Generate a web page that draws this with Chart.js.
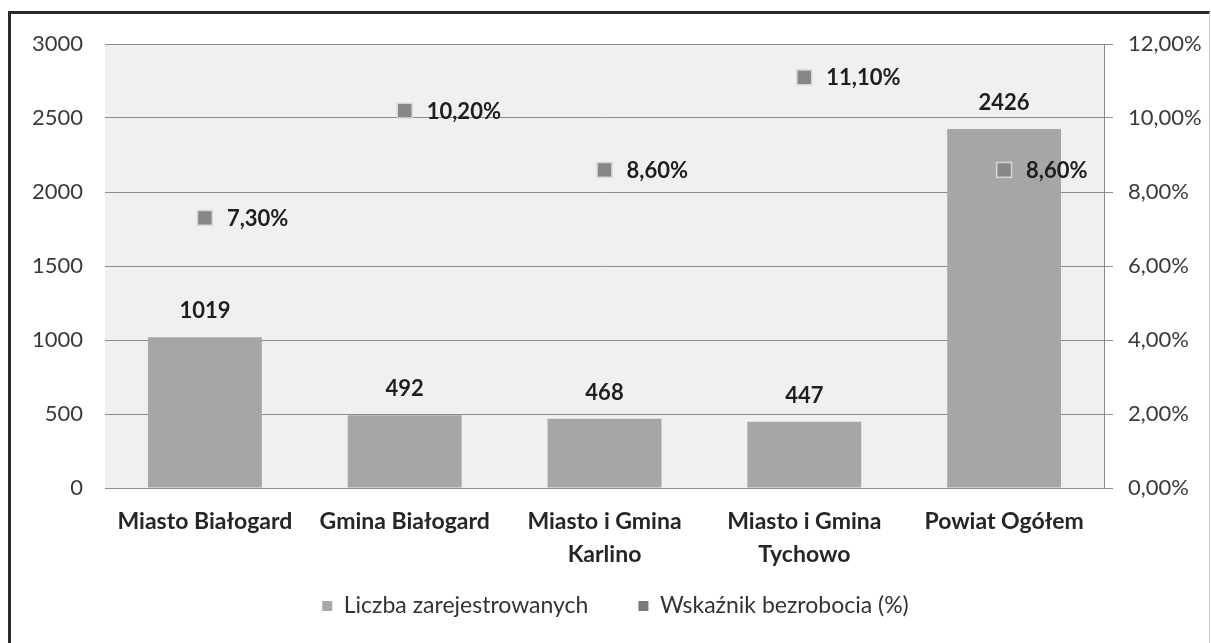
<!DOCTYPE html>
<html>
<head>
<meta charset="utf-8">
<script src="https://cdn.jsdelivr.net/npm/chart.js@4/dist/chart.umd.min.js"></script>
<style>
  html, body { margin: 0; padding: 0; background: #ffffff; overflow: hidden; }
  #wrap { position: relative; width: 1211px; height: 643px; }
  #frame { position: absolute; left: 8px; top: 11px; width: 1198px; height: 640px;
           border-left: 3px solid #2a2a2a; border-top: 3px solid #2a2a2a; border-right: 1px solid #cfcfcf; }
  canvas { position: absolute; left: 0; top: 0; }
</style>
</head>
<body>
<div id="wrap">
  <div id="frame"></div>
  <canvas id="c" width="1211" height="643"></canvas>
</div>
<script>
const categories = [
  "Miasto Białogard",
  "Gmina Białogard",
  ["Miasto i Gmina", "Karlino"],
  ["Miasto i Gmina", "Tychowo"],
  "Powiat Ogółem"
];
const registered = [1019, 492, 468, 447, 2426];
const unemploymentRate = [7.3, 10.2, 8.6, 11.1, 8.6];
const leftTicks = [0, 500, 1000, 1500, 2000, 2500, 3000];
const rightTicks = [0, 2, 4, 6, 8, 10, 12];
const seriesNames = ["Liczba zarejestrowanych", "Wskaźnik bezrobocia (%)"];

const FONT = "Lato, 'Open Sans', sans-serif";
const fmtPct = v => v.toFixed(2).replace('.', ',') + '%';

const plotBg = {
  id: 'plotBg',
  beforeDraw(chart) {
    const {ctx, chartArea: a} = chart;
    ctx.save();
    ctx.fillStyle = '#f0f0f0';
    ctx.fillRect(a.left, a.top, a.right - a.left, a.bottom - a.top);
    ctx.restore();
  }
};

const legendShift = {
  id: 'legendShift',
  afterLayout(chart) {
    const lg = chart.legend;
    if (lg) {
      lg.top -= 27.5; lg.bottom -= 27.5;
      lg.left += 10; lg.right += 10;
    }
  }
};

const valueLabels = {
  id: 'valueLabels',
  afterDatasetsDraw(chart) {
    const ctx = chart.ctx;
    ctx.save();
    ctx.fillStyle = '#1e1e1e';
    ctx.font = "bold 22px " + FONT;
    ctx.textBaseline = 'middle';
    const barMeta = chart.getDatasetMeta(0);
    ctx.textAlign = 'center';
    barMeta.data.forEach((el, i) => {
      ctx.fillText(String(registered[i]), el.x, el.y - 26);
    });
    const ptMeta = chart.getDatasetMeta(1);
    ctx.textAlign = 'left';
    ptMeta.data.forEach((el, i) => {
      ctx.fillText(fmtPct(unemploymentRate[i]), el.x + 22, el.y + 1);
    });
    ctx.restore();
  }
};

new Chart(document.getElementById('c'), {
  data: {
    labels: categories,
    datasets: [
      {
        type: 'bar',
        label: seriesNames[0],
        data: registered,
        backgroundColor: '#a6a6a6',
        borderColor: '#a6a6a6',
        borderWidth: 0,
        yAxisID: 'y',
        categoryPercentage: 1,
        barPercentage: 0.57,
        order: 2
      },
      {
        type: 'line',
        label: seriesNames[1],
        data: unemploymentRate,
        showLine: false,
        pointStyle: 'rect',
        pointRadius: 10.5,
        pointBackgroundColor: '#878787',
        pointBorderColor: '#d6d6d6',
        pointBorderWidth: 1.5,
        backgroundColor: '#7e7e7e',
        borderColor: '#7e7e7e',
        yAxisID: 'y2',
        order: 1
      }
    ]
  },
  options: {
    responsive: false,
    animation: false,
    devicePixelRatio: 1,
    layout: { padding: { top: 44, bottom: -12, left: 0, right: 0 } },
    plugins: {
      legend: {
        position: 'bottom',
        labels: {
          font: { family: FONT, size: 23 },
          color: '#333333',
          boxWidth: 10,
          boxHeight: 10,
          padding: 50,
          generateLabels(chart) {
            return chart.data.datasets.map((ds, i) => ({
              text: ds.label,
              fillStyle: i === 0 ? '#a9a9a9' : '#7a7a7a',
              strokeStyle: i === 0 ? '#a9a9a9' : '#7a7a7a',
              lineWidth: 0,
              datasetIndex: i,
              hidden: false,
              fontColor: '#333333'
            }));
          }
        }
      },
      tooltip: { enabled: false }
    },
    scales: {
      x: {
        offset: true,
        grid: { display: false, drawTicks: false },
        border: { display: false },
        ticks: {
          font: { family: FONT, size: 23, weight: 'bold', lineHeight: 1.435 },
          color: '#262626',
          padding: 17.5,
          maxRotation: 0,
          autoSkip: false
        },
        afterFit(scale) { scale.height = 84; }
      },
      y: {
        position: 'left',
        min: 0, max: 3000,
        afterBuildTicks(scale) { scale.ticks = leftTicks.map(v => ({value: v})); },
        grid: { color: '#8c8c8c', lineWidth: 1, drawTicks: false },
        border: { display: false },
        ticks: {
          font: { family: FONT, size: 22 },
          color: '#3a3a3a',
          padding: 22,
          callback: v => String(v)
        },
        afterFit(scale) { scale.width = 105; }
      },
      y2: {
        position: 'right',
        min: 0, max: 12,
        afterBuildTicks(scale) { scale.ticks = rightTicks.map(v => ({value: v})); },
        grid: { drawOnChartArea: false, drawTicks: true, tickLength: 9, tickColor: '#8c8c8c' },
        border: { display: true, color: '#8c8c8c', width: 1 },
        ticks: {
          font: { family: FONT, size: 22 },
          color: '#3a3a3a',
          padding: 15,
          callback: v => fmtPct(v)
        },
        afterFit(scale) { scale.width = 107; }
      }
    }
  },
  plugins: [plotBg, legendShift, valueLabels]
});
</script>
</body>
</html>
